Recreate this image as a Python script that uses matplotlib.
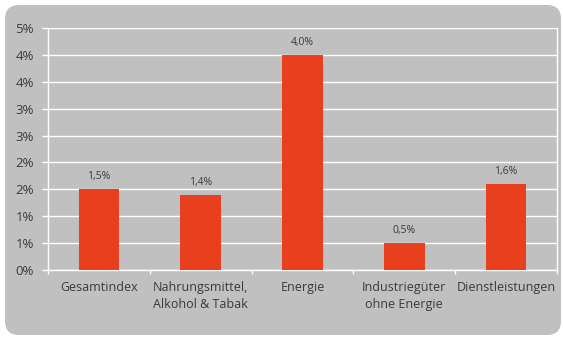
import matplotlib
matplotlib.use('Agg')
import matplotlib.pyplot as plt
from matplotlib.patches import FancyBboxPatch
from matplotlib.transforms import IdentityTransform
import numpy as np

categories = ['Gesamtindex', 'Nahrungsmittel,\nAlkohol & Tabak', 'Energie',
              'Industriegüter\nohne Energie', 'Dienstleistungen']
values = [1.5, 1.4, 4.0, 0.5, 1.6]
value_labels = ['1,5%', '1,4%', '4,0%', '0,5%', '1,6%']
yticks = [0, 0.5, 1.0, 1.5, 2.0, 2.5, 3.0, 3.5, 4.0, 4.5]
ytick_labels = ['0%', '1%', '1%', '2%', '2%', '3%', '3%', '4%', '4%', '5%']

plt.rcParams['font.family'] = ['Open Sans', 'DejaVu Sans']

W, H = 563, 338
fig = plt.figure(figsize=(W / 100, H / 100), dpi=100)
fig.patch.set_facecolor('white')

panel = FancyBboxPatch((5, 3), 556, 330, boxstyle='round,pad=0,rounding_size=14',
                       transform=IdentityTransform(), facecolor='#c0c0c0',
                       edgecolor='none', zorder=-10)
fig.patches.append(panel)

ax = fig.add_axes([48 / W, 1 - 270 / H, (557 - 48) / W, (270 - 28) / H])
ax.set_zorder(5)
ax.set_facecolor('none')
text_color = '#3a3a3a'

x = np.arange(len(categories))
ax.bar(x, values, width=0.4, color='#E8401F', zorder=3)
for xi, v, lab in zip(x, values, value_labels):
    ax.annotate(lab, (xi, v), xytext=(0, 5), textcoords='offset points',
                ha='center', va='bottom', fontsize=7.5, color=text_color)

ax.set_xlim(-0.5, len(categories) - 0.5)
ax.set_ylim(0, 4.5)
ax.set_yticks(yticks)
ax.set_yticklabels(ytick_labels, fontsize=9.5, color=text_color)
ax.set_xticks(x)
ax.set_xticklabels(categories, fontsize=9, color=text_color, linespacing=1.4)
ax.tick_params(axis='x', which='major', length=0, pad=8)
ax.set_xticks(np.arange(len(categories) + 1) - 0.5, minor=True)
ax.tick_params(axis='x', which='minor', length=3, color='white', width=1)
ax.tick_params(axis='y', length=4, color='white', width=1, pad=6)
ax.grid(axis='y', color='white', linewidth=1, zorder=1)
ax.set_axisbelow(True)
for s in ['left', 'bottom', 'right']:
    ax.spines[s].set_color('white')
    ax.spines[s].set_linewidth(1)
ax.spines['top'].set_visible(False)

fig.savefig('out.png', dpi=100)
